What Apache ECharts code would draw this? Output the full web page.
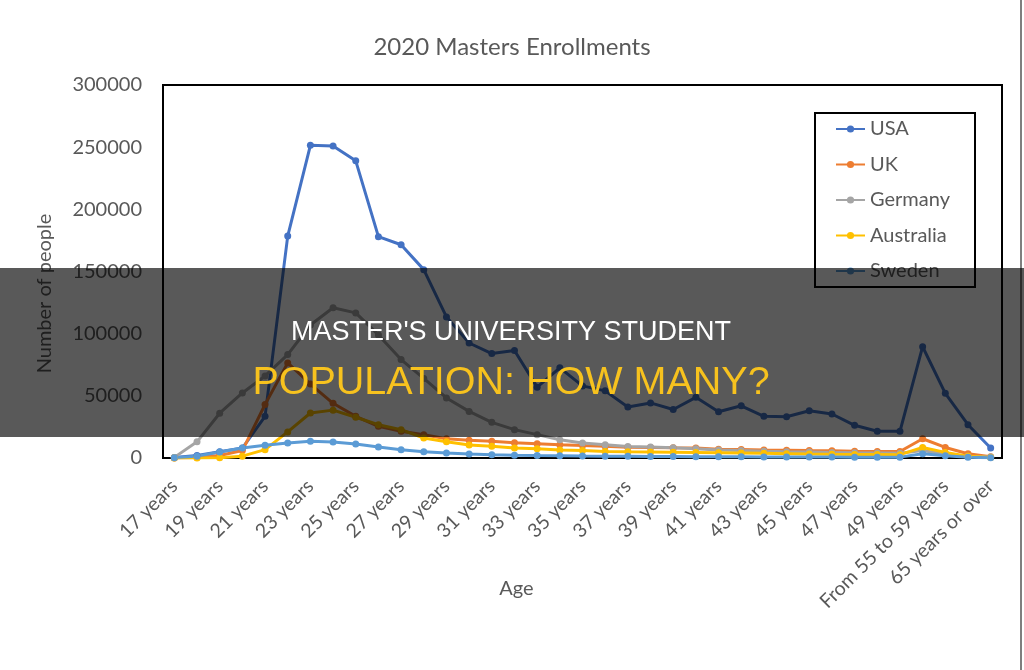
<!DOCTYPE html>
<html>
<head>
<meta charset="utf-8">
<script src="https://cdn.jsdelivr.net/npm/echarts@6/dist/echarts.min.js"></script>
<style>
html,body{margin:0;padding:0;background:#fff;}
#c{width:1024px;height:670px;}
</style>
</head>
<body>
<div id="c"></div>
<script>
const categories = [
  "17 years","18 years","19 years","20 years","21 years","22 years","23 years","24 years",
  "25 years","26 years","27 years","28 years","29 years","30 years","31 years","32 years",
  "33 years","34 years","35 years","36 years","37 years","38 years","39 years","40 years",
  "41 years","42 years","43 years","44 years","45 years","46 years","47 years","48 years",
  "49 years","From 50 to 54 years","From 55 to 59 years","From 60 to 64 years","65 years or over"
];
const usa = [500,2000,5000,8000,33500,178500,251500,251000,239000,178000,171500,151500,113500,92500,84000,86500,57000,72500,58000,54000,41000,44300,39000,48800,37200,42000,33500,33200,38000,35400,26300,21500,21500,89500,52000,26800,8000];
const uk = [0,500,2000,6000,43000,76500,59500,44000,33500,25500,21500,18700,15500,14300,13400,12200,11500,10700,10000,9400,8700,8500,8200,8000,7000,6800,6500,6300,6000,5800,5500,5300,5200,15500,8500,3400,1000];
const germany = [500,13000,36000,52300,66000,83200,107000,120800,116700,99000,79200,64000,48300,37500,28700,22800,18800,14700,12000,10700,9200,8800,8200,7500,6500,6000,5500,5000,4800,4500,4200,4000,3800,6000,3000,1500,800];
const australia = [0,0,200,1500,6700,21000,36200,38500,32800,26800,22800,16100,13000,10500,9400,8000,7500,6500,6000,5300,5000,4800,4600,4400,4200,4000,3800,3500,3200,3000,2900,2800,2700,8500,4500,1500,500];
const sweden = [300,1500,4800,8000,10200,12000,13400,12900,11300,8900,6700,5100,4000,3200,2700,2300,2000,1800,1600,1500,1400,1300,1200,1100,1000,1000,900,900,800,800,700,700,700,3500,1800,700,300];
const yTicks = [0,50000,100000,150000,200000,250000,300000];

const seriesNames = ["USA","UK","Germany","Australia","Sweden"];
const seriesData = [usa, uk, germany, australia, sweden];
const colors = ["#4472C4","#ED7D31","#A5A5A5","#FFC000","#5B9BD5"];

const FONT = "Lato, 'Open Sans', sans-serif";
const GREY = "#595959";

const chart = echarts.init(document.getElementById('c'), null, {renderer:'canvas'});
chart.setOption({
  animation:false,
  backgroundColor:'#fff',
  title:{
    text:"2020 Masters Enrollments",
    left:'center', top:30,
    textStyle:{fontFamily:FONT,fontSize:24,fontWeight:'normal',color:GREY}
  },
  legend:{
    orient:'vertical',
    left:835, top:119,
    padding:0,
    itemGap:15.5,
    itemWidth:29, itemHeight:9,
    textStyle:{fontFamily:FONT,fontSize:20,lineHeight:20,color:GREY},
    data:seriesNames
  },
  grid:{
    left:163, right:22, top:85, bottom:212,
    show:true, borderColor:'#000', borderWidth:2, backgroundColor:'transparent'
  },
  xAxis:{
    type:'category',
    data:categories,
    boundaryGap:true,
    name:'Age', nameLocation:'middle', nameGap:121, nameMoveOverlap:false,
    nameTextStyle:{fontFamily:FONT,fontSize:20,color:GREY,padding:[0,132,0,0]},
    axisLine:{show:false},
    axisTick:{show:false},
    axisLabel:{rotate:45, interval:1, margin:25, fontFamily:FONT, fontSize:19.5, color:GREY}
  },
  yAxis:{
    type:'value',
    min:yTicks[0], max:yTicks[yTicks.length-1], interval:50000,
    name:'Number of people', nameLocation:'middle', nameGap:108, nameMoveOverlap:false,
    nameTextStyle:{fontFamily:FONT,fontSize:20,color:GREY,padding:[0,44,0,0]},
    axisLine:{show:false},
    axisTick:{show:false},
    splitLine:{show:false},
    axisLabel:{margin:21, fontFamily:FONT, fontSize:20, color:GREY, formatter:(v)=>String(v)}
  },
  series: seriesNames.map((n,i)=>({
    name:n, type:'line', data:seriesData[i],
    symbol:'circle', symbolSize:7,
    lineStyle:{width:3,color:colors[i]},
    itemStyle:{color:colors[i]},
    emphasis:{disabled:true}
  })),
  graphic:[
    {type:'rect', z:50, shape:{x:815,y:113,width:160,height:174}, style:{fill:'none',stroke:'#000',lineWidth:2}},
    {type:'line', z:50, shape:{x1:1021,y1:0,x2:1021,y2:670}, style:{stroke:'#555',lineWidth:1.5}},
    {type:'rect', z:100, shape:{x:0,y:268,width:1024,height:169}, style:{fill:'rgba(0,0,0,0.65)'}},
    {type:'text', z:101, style:{text:"MASTER'S UNIVERSITY STUDENT", x:511, y:333, textAlign:'center', textVerticalAlign:'middle', align:'center', verticalAlign:'middle', fill:'#ffffff', font:"27px 'Liberation Sans', Arial, sans-serif"}},
    {type:'text', z:101, style:{text:"POPULATION: HOW MANY?", x:511, y:383, textAlign:'center', textVerticalAlign:'middle', align:'center', verticalAlign:'middle', fill:'#F7C21E', font:"39.5px 'Liberation Sans', Arial, sans-serif"}}
  ]
});
</script>
</body>
</html>
